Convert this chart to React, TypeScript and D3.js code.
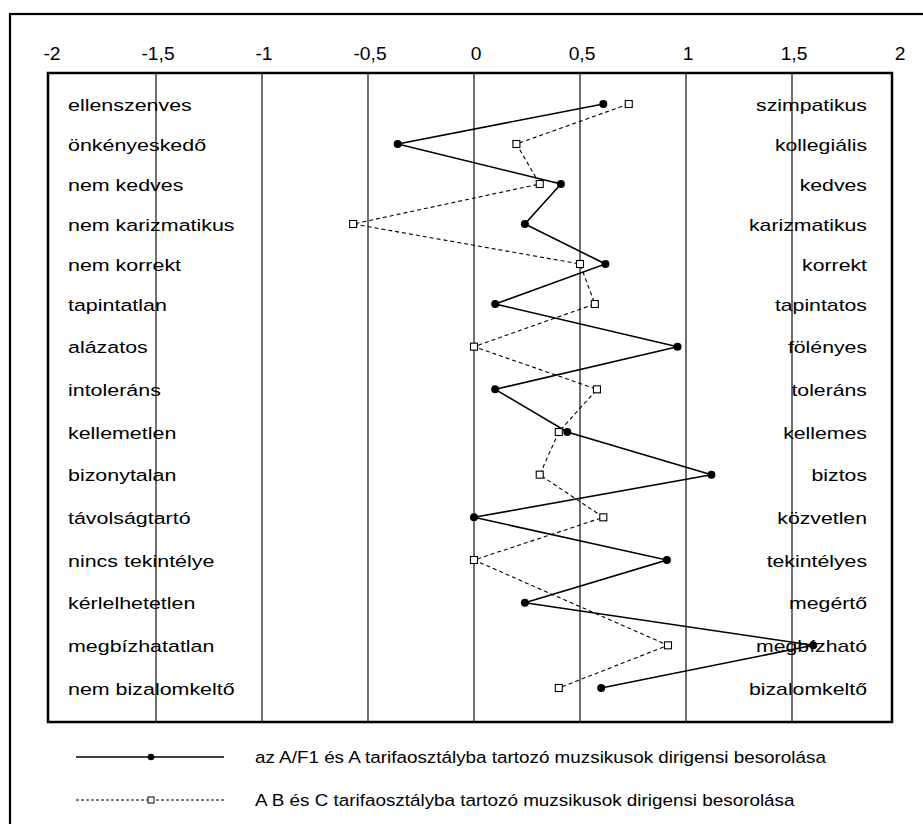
import * as d3 from "d3";

const leftLabels = [
  "ellenszenves",
  "önkényeskedő",
  "nem kedves",
  "nem karizmatikus",
  "nem korrekt",
  "tapintatlan",
  "alázatos",
  "intoleráns",
  "kellemetlen",
  "bizonytalan",
  "távolságtartó",
  "nincs tekintélye",
  "kérlelhetetlen",
  "megbízhatatlan",
  "nem bizalomkeltő",
];
const rightLabels = [
  "szimpatikus",
  "kollegiális",
  "kedves",
  "karizmatikus",
  "korrekt",
  "tapintatos",
  "fölényes",
  "toleráns",
  "kellemes",
  "biztos",
  "közvetlen",
  "tekintélyes",
  "megértő",
  "megbízható",
  "bizalomkeltő",
];
// az A/F1 és A tarifaosztály
const seriesA = [0.61, -0.36, 0.41, 0.24, 0.62, 0.1, 0.96, 0.1, 0.44, 1.12, 0, 0.91, 0.24, 1.6, 0.6];
// A B és C tarifaosztály (megértő hiányzik)
const seriesB: (number | null)[] = [0.73, 0.2, 0.31, -0.57, 0.5, 0.57, 0, 0.58, 0.4, 0.31, 0.61, 0, null, 0.915, 0.4];
const xTicks = [-2, -1.5, -1, -0.5, 0, 0.5, 1, 1.5, 2];
const legendA = "az A/F1 és A tarifaosztályba tartozó muzsikusok dirigensi besorolása";
const legendB = "A B és C tarifaosztályba tartozó muzsikusok dirigensi besorolása";

const W = 923;
const H = 824;
const box = { left: 48, right: 892, top: 73, bottom: 722 };
const FONT = "'Liberation Sans', Arial, sans-serif";

const x = d3.scaleLinear().domain([-2, 2]).range([50, 898]);
const y = d3.scaleLinear().domain([0, 5, 14]).range([104, 304, 688]);

const fmt = (v: number) => String(v).replace(".", ",");

const Txt = ({ tx, ty, anchor = "start", fs = 17, sx = 1.2, children }: any) => (
  <text
    transform={`translate(${tx},${ty}) scale(${sx},1)`}
    textAnchor={anchor}
    fontFamily={FONT}
    fontSize={fs}
    fill="#000"
  >
    {children}
  </text>
);

const App = () => {
  const ptsA = seriesA.map((v, i) => [x(v), y(i)] as [number, number]);
  const ptsB = seriesB
    .map((v, i) => (v === null ? null : ([x(v), y(i)] as [number, number])))
    .filter((p): p is [number, number] => p !== null);
  const line = d3.line();

  return (
    <svg
      width={W}
      height={H}
      style={{ position: "absolute", left: 0, top: 0, background: "#fff" }}
    >
      <rect x={10} y={14} width={940} height={840} fill="#fff" stroke="#000" strokeWidth={2.2} />

      {xTicks.map((t) => (
        <Txt key={"t" + t} tx={x(t) + 2} ty={59.5} anchor="middle" fs={17.5} sx={1.1}>
          {fmt(t)}
        </Txt>
      ))}

      {xTicks.slice(1, -1).map((t) => (
        <line
          key={"g" + t}
          x1={x(t)}
          x2={x(t)}
          y1={box.top}
          y2={box.bottom}
          stroke="#222"
          strokeWidth={1.3}
        />
      ))}

      <rect
        x={box.left}
        y={box.top}
        width={box.right - box.left}
        height={box.bottom - box.top}
        fill="none"
        stroke="#000"
        strokeWidth={2.5}
      />

      {leftLabels.map((l, i) => (
        <Txt key={"l" + i} tx={68} ty={y(i) + 6.5} sx={1.26}>
          {l}
        </Txt>
      ))}
      {rightLabels.map((l, i) => (
        <Txt key={"r" + i} tx={867} ty={y(i) + 6.5} anchor="end" sx={1.25}>
          {l}
        </Txt>
      ))}

      <path d={line(ptsB) ?? ""} fill="none" stroke="#000" strokeWidth={1.1} strokeDasharray="4,3" />
      <path d={line(ptsA) ?? ""} fill="none" stroke="#000" strokeWidth={1.6} />

      {ptsA.map(([px, py], i) => (
        <circle key={"a" + i} cx={px} cy={py} r={4} fill="#000" />
      ))}
      {ptsB.map(([px, py], i) => (
        <rect key={"b" + i} x={px - 3.5} y={py - 3.5} width={7} height={7} fill="#fff" stroke="#000" strokeWidth={1.1} />
      ))}

      {/* jelmagyarázat */}
      <line x1={76} x2={224} y1={757} y2={757} stroke="#000" strokeWidth={1.3} />
      <circle cx={151} cy={757} r={3.3} fill="#000" />
      <Txt tx={255} ty={763} sx={1.11}>
        {legendA}
      </Txt>
      <line x1={76} x2={224} y1={800} y2={800} stroke="#000" strokeWidth={1} strokeDasharray="3,2" />
      <rect x={148} y={797} width={6} height={6} fill="#fff" stroke="#000" strokeWidth={1} />
      <Txt tx={255} ty={806} sx={1.11}>
        {legendB}
      </Txt>
    </svg>
  );
};

export default App;
